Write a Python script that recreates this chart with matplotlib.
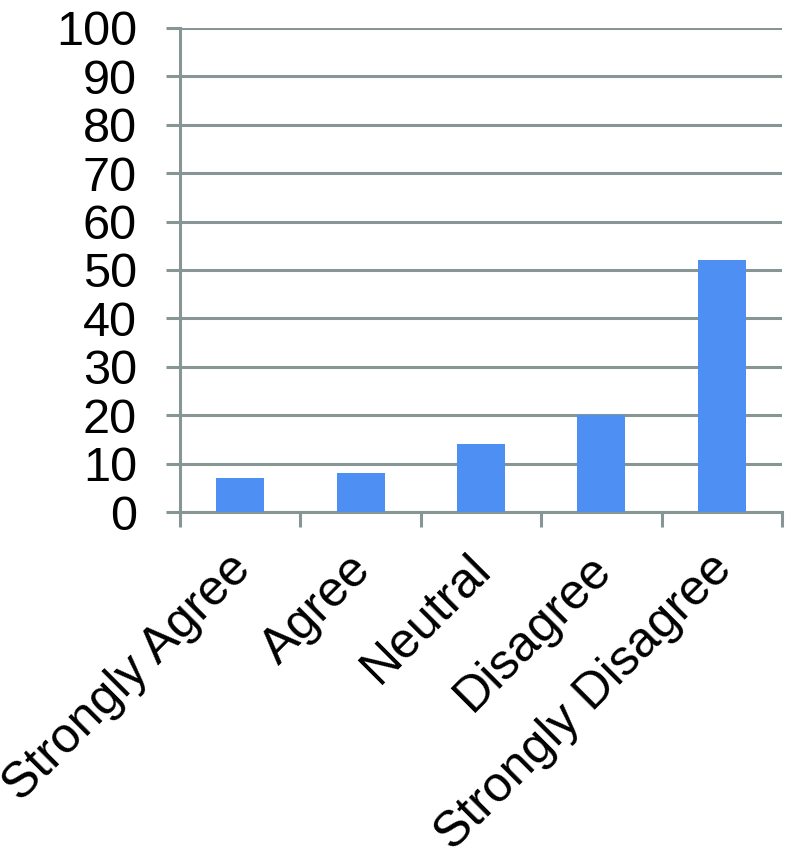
import matplotlib
matplotlib.use("Agg")
import matplotlib.pyplot as plt
import matplotlib.transforms as mtransforms
import numpy as np

categories = ["Strongly Agree", "Agree", "Neutral", "Disagree", "Strongly Disagree"]
values = [7, 8, 14, 20, 52]
yticks = [0, 10, 20, 30, 40, 50, 60, 70, 80, 90, 100]

plt.rcParams['font.family'] = ['Liberation Sans', 'DejaVu Sans']
grid_c = '#889595'
bar_c = '#4d8ff2'

fig = plt.figure(figsize=(7.86, 8.5), dpi=100)
ax = fig.add_axes([180/786, 1-512/850, (782-180)/786, (512-28)/850])

x = np.arange(len(categories))
ax.bar(x, values, width=0.4, color=bar_c, zorder=3)
ax.set_xlim(-0.5, len(categories)-0.5)
ax.set_ylim(0, 100)
ax.set_yticks(yticks)
ax.set_yticklabels([str(t) for t in yticks], fontsize=35)
ax.yaxis.grid(True, color=grid_c, linewidth=2.2, zorder=0)
ax.tick_params(axis='y', length=10, width=2.2, color=grid_c, pad=21)

ax.set_xticks(x)
ax.set_xticklabels(categories, fontsize=36, rotation=45, ha='right', va='center',
                   rotation_mode='anchor')
ax.tick_params(axis='x', length=0, pad=36)
offset = mtransforms.ScaledTranslation(3/100, 0, fig.dpi_scale_trans)
for lab in ax.get_xticklabels():
    lab.set_transform(lab.get_transform() + offset)
ax.set_xticks(np.arange(len(categories)+1)-0.5, minor=True)
ax.tick_params(axis='x', which='minor', length=11, width=2.2, color=grid_c)

for s in ['top', 'right']:
    ax.spines[s].set_visible(False)
for s in ['left', 'bottom']:
    ax.spines[s].set_color(grid_c)
    ax.spines[s].set_linewidth(2.2)

fig.savefig("out.png", dpi=100)
